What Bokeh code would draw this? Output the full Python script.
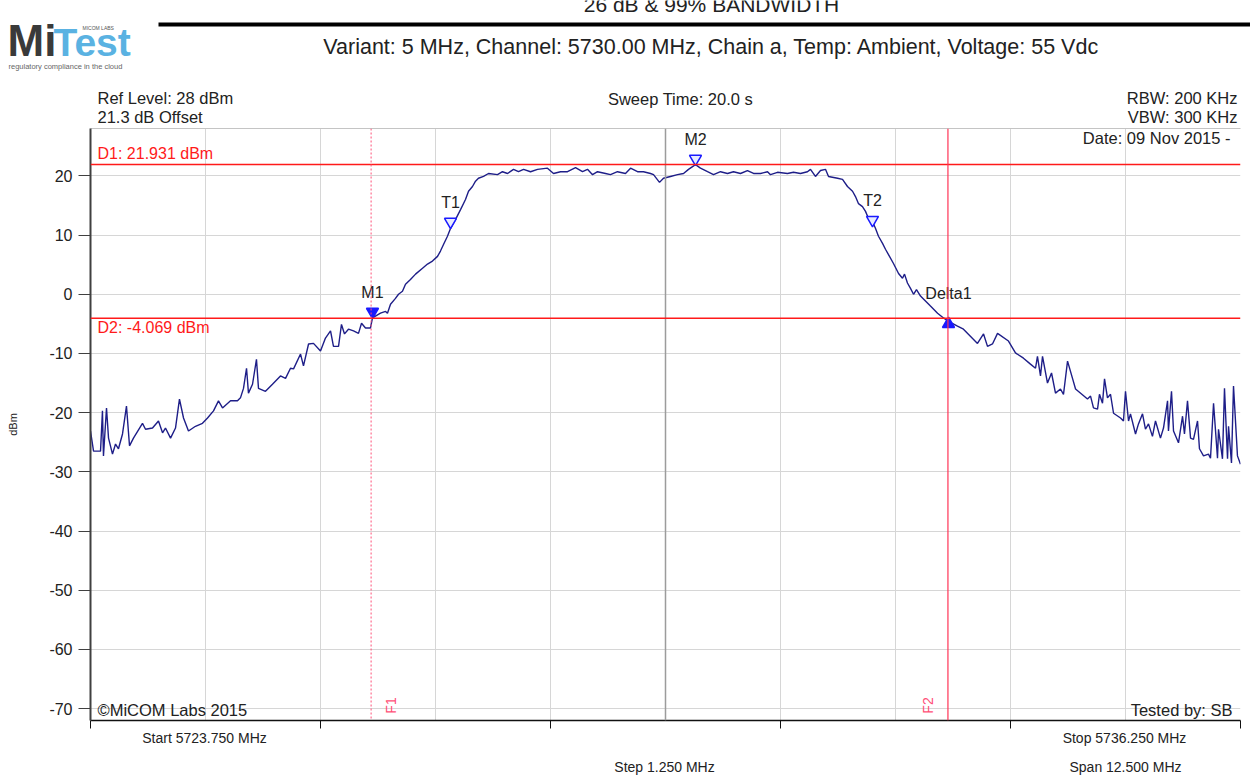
import math
from bokeh.plotting import figure
from bokeh.layouts import column, row
from bokeh.models import Range1d, FixedTicker, Span, Label, BoxAnnotation, LinearAxis, ColumnDataSource
from bokeh.embed import file_html
from bokeh.resources import INLINE
from bokeh.core.properties import value

# ---------------- data ----------------
freq_mhz = [
    5723.750, 5723.783, 5723.859, 5723.880, 5723.891, 5723.924, 5723.946, 5723.989, 5724.022, 5724.054,
    5724.098, 5724.141, 5724.174, 5724.217, 5724.315, 5724.348, 5724.424, 5724.489, 5724.533, 5724.565,
    5724.620, 5724.674, 5724.717, 5724.761, 5724.815, 5724.891, 5724.967, 5725.022, 5725.087, 5725.141,
    5725.185, 5725.272, 5725.348, 5725.380, 5725.413, 5725.446, 5725.467, 5725.511, 5725.554, 5725.576,
    5725.652, 5725.728, 5725.815, 5725.870, 5725.924, 5725.957, 5726.033, 5726.065, 5726.120, 5726.174,
    5726.250, 5726.304, 5726.359, 5726.391, 5726.446, 5726.478, 5726.511, 5726.554, 5726.609, 5726.663,
    5726.696, 5726.739, 5726.793, 5726.815, 5726.902, 5726.957, 5726.978, 5727.011, 5727.065, 5727.098,
    5727.141, 5727.174, 5727.228, 5727.283, 5727.359, 5727.413, 5727.467, 5727.522, 5727.554, 5727.587,
    5727.630, 5727.663, 5727.717, 5727.772, 5727.826, 5727.859, 5727.902, 5727.935, 5727.967, 5728.022,
    5728.076, 5728.174, 5728.228, 5728.283, 5728.348, 5728.402, 5728.457, 5728.533, 5728.609, 5728.717,
    5728.783, 5728.859, 5728.935, 5729.022, 5729.098, 5729.152, 5729.207, 5729.261, 5729.348, 5729.402,
    5729.478, 5729.565, 5729.620, 5729.696, 5729.761, 5729.837, 5729.870, 5729.935, 5729.978, 5730.054,
    5730.130, 5730.196, 5730.250, 5730.326, 5730.380, 5730.457, 5730.522, 5730.598, 5730.674, 5730.739,
    5730.815, 5730.891, 5730.957, 5731.033, 5731.109, 5731.141, 5731.217, 5731.326, 5731.391, 5731.467,
    5731.543, 5731.576, 5731.630, 5731.685, 5731.739, 5731.772, 5731.870, 5731.924, 5731.978, 5732.033,
    5732.065, 5732.098, 5732.141, 5732.174, 5732.207, 5732.250, 5732.283, 5732.315, 5732.359, 5732.391,
    5732.424, 5732.478, 5732.533, 5732.576, 5732.598, 5732.630, 5732.663, 5732.696, 5732.728, 5732.772,
    5732.804, 5732.880, 5732.957, 5733.022, 5733.076, 5733.174, 5733.239, 5733.391, 5733.457, 5733.500,
    5733.554, 5733.609, 5733.728, 5733.804, 5733.891, 5733.967, 5734.022, 5734.043, 5734.076, 5734.098,
    5734.152, 5734.196, 5734.239, 5734.293, 5734.326, 5734.370, 5734.424, 5734.457, 5734.587, 5734.620,
    5734.652, 5734.696, 5734.717, 5734.750, 5734.772, 5734.804, 5734.837, 5734.870, 5734.946, 5734.978,
    5735.000, 5735.033, 5735.054, 5735.109, 5735.141, 5735.185, 5735.217, 5735.250, 5735.293, 5735.326,
    5735.380, 5735.413, 5735.457, 5735.467, 5735.500, 5735.522, 5735.576, 5735.620, 5735.641, 5735.674,
    5735.707, 5735.739, 5735.783, 5735.804, 5735.848, 5735.902, 5735.924, 5735.957, 5736.000, 5736.011,
    5736.054, 5736.076, 5736.109, 5736.120, 5736.152, 5736.174, 5736.217, 5736.250,
]
level_dbm = [
    -23.1, -26.5, -26.5, -19.7, -27.3, -19.2, -24.3, -27.0, -25.3, -26.1,
    -23.6, -18.9, -25.6, -24.3, -21.8, -22.8, -22.6, -21.4, -23.4, -22.6,
    -24.3, -22.6, -17.7, -20.9, -23.1, -22.3, -21.8, -20.9, -19.7, -18.0,
    -19.2, -18.0, -18.0, -17.5, -15.9, -12.5, -16.7, -15.2, -11.0, -15.9,
    -16.4, -15.2, -13.8, -14.2, -12.5, -12.6, -10.1, -12.1, -8.4, -8.3,
    -9.6, -7.4, -6.2, -8.8, -8.8, -5.1, -6.7, -5.9, -6.2, -6.6,
    -4.9, -5.7, -5.7, -4.0, -3.2, -2.9, -3.2, -1.7, -0.7, 0.0,
    0.5, 1.7, 2.5, 3.4, 4.4, 5.1, 5.6, 6.4, 7.3, 8.4,
    9.8, 11.1, 12.6, 14.3, 16.0, 17.4, 18.2, 19.1, 19.6, 19.9,
    20.4, 20.2, 20.7, 20.4, 21.1, 20.7, 21.1, 20.7, 21.1, 21.3,
    20.4, 20.7, 20.7, 21.4, 20.7, 21.1, 20.2, 20.7, 20.4, 20.2,
    20.7, 20.4, 21.3, 20.7, 20.7, 20.4, 20.2, 18.9, 19.6, 19.9,
    20.2, 20.4, 21.1, 21.9, 21.3, 20.7, 20.2, 20.7, 20.4, 20.7,
    20.4, 20.9, 20.4, 20.4, 20.7, 20.2, 20.6, 20.4, 20.6, 20.4,
    20.7, 21.1, 19.9, 20.9, 21.1, 19.9, 19.6, 19.4, 18.2, 17.4,
    16.5, 15.3, 14.8, 14.0, 12.8, 12.3, 11.1, 9.8, 8.6, 7.6,
    6.7, 5.2, 3.5, 2.7, 3.4, 1.9, 1.0, 0.0, 0.8, -0.3,
    -0.8, -2.0, -3.2, -4.0, -4.6, -5.4, -5.9, -8.3, -6.7, -8.8,
    -8.4, -6.6, -7.9, -9.9, -10.8, -11.8, -12.5, -10.5, -13.8, -10.5,
    -15.0, -13.3, -16.7, -16.0, -16.9, -11.3, -14.2, -16.0, -17.7, -17.2,
    -19.2, -19.4, -16.9, -18.4, -14.3, -17.5, -16.9, -20.1, -20.9, -21.4,
    -16.4, -21.4, -20.2, -23.6, -21.9, -20.2, -22.8, -21.9, -24.0, -21.4,
    -24.3, -22.6, -18.0, -23.1, -16.4, -23.1, -25.1, -20.6, -23.6, -18.0,
    -24.3, -24.5, -21.4, -26.1, -27.3, -27.0, -27.7, -18.4, -27.7, -22.8,
    -27.8, -15.9, -27.8, -22.3, -28.5, -15.5, -27.3, -28.7,
]
assert len(freq_mhz) == len(level_dbm)

marker_names = ["M1", "T1", "M2", "T2", "Delta1"]
marker_freqs = [5726.815, 5727.663, 5730.326, 5732.250, 5733.076]
marker_levels = [-3.9, 11.3, 21.931, 11.6, -4.07]
marker_filled = [True, False, False, False, True]
marker_up = [False, False, False, False, True]

d1_level = 21.931
d2_level = -4.069
f1_freq = 5726.80
f2_freq = 5733.07

start_freq, stop_freq = 5723.75, 5736.25
center_freq = 5730.0
y_bottom, y_top = -72, 28
y_ticks = [-70, -60, -50, -40, -30, -20, -10, 0, 10, 20]
x_axis_ticks = [5723.75, 5726.25, 5728.75, 5731.25, 5733.75, 5736.25]
x_grid_ticks = [5725.0, 5726.25, 5727.5, 5728.75, 5730.0, 5731.25, 5732.5, 5733.75, 5735.0]

# ---------------- layout geometry (page pixels) ----------------
W = 1250
HEAD_H = 124            # header strip
FL, FT, FW, FH = 90, 128, 1150, 592   # plot frame
MAIN_BOTTOM = 10
MAIN_H = (FT - HEAD_H) + FH + MAIN_BOTTOM
FOOT_TOP = HEAD_H + MAIN_H
FOOT_H = 777 - FOOT_TOP
FONT = "Liberation Sans"
TXT = "#222222"


def strip(height):
    f = figure(width=W, height=height, output_backend="svg", toolbar_location=None,
               x_range=Range1d(0, W), y_range=Range1d(height, 0),
               x_axis_type=None, y_axis_type=None,
               min_border_left=0, min_border_right=0, min_border_top=0, min_border_bottom=0)
    f.grid.visible = False
    f.outline_line_color = None
    f.background_fill_color = "white"
    f.border_fill_color = "white"
    return f


def put(fig, text, x, y, size="16.5px", align="left", color=TXT, baseline="middle",
        angle=0, style="normal", font=FONT):
    fig.add_layout(Label(x=x, y=y, text=text, text_align=align, text_baseline=baseline,
                         text_font=font, text_font_size=size, text_color=color, angle=angle,
                         text_font_style=style))


# ---------------- header ----------------
head = strip(HEAD_H)
head.add_layout(BoxAnnotation(left=158, right=W, top=22, bottom=26,
                              fill_color="black", fill_alpha=1.0, line_color=None))
put(head, "26 dB & 99% BANDWIDTH", 711, 4, size="21px", align="center")
put(head, "Variant: 5 MHz, Channel: 5730.00 MHz, Chain a, Temp: Ambient, Voltage: 55 Vdc",
    711, 46, size="21.5px", align="center")
# logo
put(head, "Mi", 7, 40, size="44px", color="#3a3a3a", style="bold")
put(head, "Test", 53, 42, size="39px", color="#5ab2e2", style="bold")
put(head, "MICOM LABS", 82, 27, size="5px", color="#555555")
put(head, "regulatory compliance in the cloud", 8, 66, size="7.5px", color="#666666")
# instrument settings
put(head, "Ref Level: 28 dBm", 97, 97)
put(head, "21.3 dB Offset", 97, 116)
put(head, "Sweep Time: 20.0 s", 680, 98, align="center")
put(head, "RBW: 200 KHz", 1237, 97, align="right")
put(head, "VBW: 300 KHz", 1237, 116, align="right")

# ---------------- main plot ----------------
p = figure(width=W, height=MAIN_H, output_backend="svg", toolbar_location=None,
           x_range=Range1d(start_freq, stop_freq), y_range=Range1d(y_bottom, y_top),
           min_border_left=FL, min_border_right=W - FL - FW,
           min_border_top=FT - HEAD_H, min_border_bottom=MAIN_BOTTOM)
p.outline_line_color = None
p.background_fill_color = "white"
p.border_fill_color = "white"


def fx(px):
    return start_freq + (px - FL) * (stop_freq - start_freq) / FW


def fy(py):
    return y_top - (py - FT) * (y_top - y_bottom) / FH


p.yaxis.ticker = FixedTicker(ticks=y_ticks)
p.yaxis.major_label_overrides = {t: str(t) for t in y_ticks}
p.yaxis.major_tick_out = 12
p.yaxis.major_tick_in = 0
p.yaxis.minor_tick_line_color = None
p.yaxis.major_label_standoff = 6
p.yaxis.axis_line_width = 2
p.yaxis.axis_line_color = "#404040"
p.yaxis.major_tick_line_color = "#404040"
p.yaxis.major_label_text_font = FONT
p.yaxis.major_label_text_font_size = "16px"
p.yaxis.major_label_text_color = TXT
p.yaxis.axis_label = "dBm"
p.yaxis.axis_label_text_font = FONT
p.yaxis.axis_label_text_font_size = "11px"
p.yaxis.axis_label_text_font_style = "normal"
p.yaxis.axis_label_text_color = TXT
p.yaxis.axis_label_standoff = 27

p.xaxis.ticker = FixedTicker(ticks=x_axis_ticks)
p.xaxis.major_tick_out = 8
p.xaxis.major_tick_in = 0
p.xaxis.minor_tick_line_color = None
p.xaxis.major_label_standoff = 0
p.xaxis.major_label_text_font_size = "1px"
p.xaxis.major_label_text_color = None
p.xaxis.axis_line_color = "#111111"
p.xaxis.axis_line_width = 1.5
p.xaxis.major_tick_line_color = "#111111"

top_axis = LinearAxis(ticker=FixedTicker(ticks=[]), axis_line_color="#c4c4c4",
                      major_tick_line_color=None, minor_tick_line_color=None,
                      major_label_text_font_size="1px", major_label_text_color=None)
p.add_layout(top_axis, "above")

p.xgrid.ticker = FixedTicker(ticks=x_grid_ticks)
p.ygrid.ticker = FixedTicker(ticks=y_ticks)
p.xgrid.grid_line_color = "#d6d6d6"
p.ygrid.grid_line_color = "#d6d6d6"
p.add_layout(Span(location=center_freq, dimension="height", line_color="#9c9c9c", line_width=1.5))

p.add_layout(Span(location=d1_level, dimension="width", line_color="#ff1a1a", line_width=1.5))
p.add_layout(Span(location=d2_level, dimension="width", line_color="#ff1a1a", line_width=1.5))
p.add_layout(Span(location=f1_freq, dimension="height", line_color="#ff4f77", line_width=1, line_dash="2 2"))
p.add_layout(Span(location=f2_freq, dimension="height", line_color="#ff3355", line_width=1.2))

p.line(freq_mhz, level_dbm, line_color="#1e1e88", line_width=1.4)

tri_shift = 0.95  # dB, so that the triangle tip sits on the point
src = ColumnDataSource(dict(
    x=marker_freqs,
    y=[l - tri_shift if up else l + tri_shift for l, up in zip(marker_levels, marker_up)],
    ly=marker_levels,
    name=marker_names,
    marker=["triangle" if up else "inverted_triangle" for up in marker_up],
    fill=["#1a1aff" if f else "#e8ecff" for f in marker_filled],
))
p.scatter(x="x", y="y", marker="marker", size=12, fill_color="fill", line_color="#1a1aff",
          line_width=1.5, source=src)
p.text(x="x", y="ly", text="name", source=src, y_offset=-25, text_align="center",
       text_baseline="middle", text_font=value(FONT), text_font_size="16px", text_color=TXT)

put(p, "Date: 09 Nov 2015 -", fx(1230), fy(137), align="right")
put(p, "D1: 21.931 dBm", fx(97), fy(153), size="16px", color="#ff1a1a")
put(p, "D2: -4.069 dBm", fx(97), fy(327), size="16px", color="#ff1a1a")
put(p, "\u00a9MiCOM Labs 2015", fx(97), fy(709))
put(p, "Tested by: SB", fx(1232), fy(709), align="right")
put(p, "F1", fx(390), fy(705), size="14px", align="center", color="#ff4f77", angle=math.pi / 2)
put(p, "F2", fx(927), fy(705), size="14px", align="center", color="#ff4f77", angle=math.pi / 2)

# ---------------- footer ----------------
foot = strip(FOOT_H)
put(foot, "Start 5723.750 MHz", 204, 737 - FOOT_TOP, size="14px", align="center")
put(foot, "Stop 5736.250 MHz", 1124, 737 - FOOT_TOP, size="14px", align="center")
put(foot, "Step 1.250 MHz", 664, 766 - FOOT_TOP, size="14px", align="center")
put(foot, "Span 12.500 MHz", 1125, 766 - FOOT_TOP, size="14px", align="center")

# header and footer are wrapped in rows so that their frames keep their own full width
layout = column(row(head, spacing=0), p, row(foot, spacing=0), spacing=0)
open("out.html", "w").write(file_html(layout, INLINE))
